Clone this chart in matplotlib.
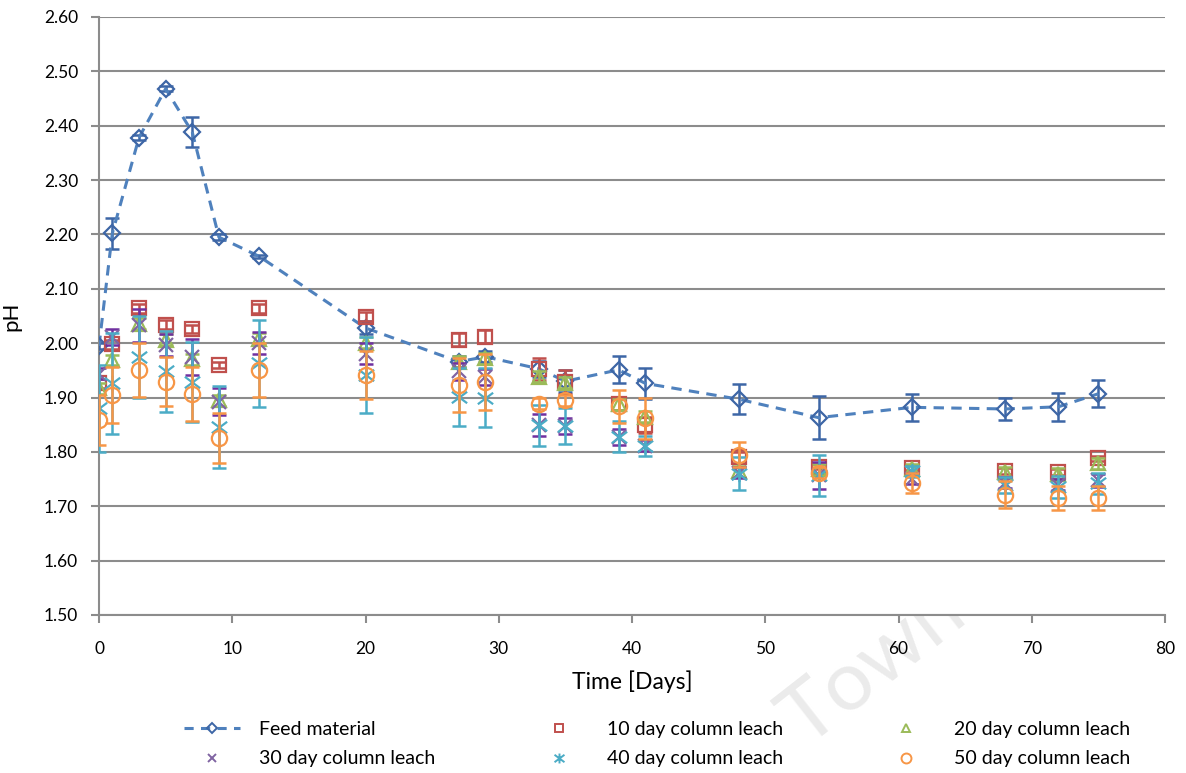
import matplotlib
matplotlib.use("Agg")
import matplotlib.pyplot as plt
from matplotlib.lines import Line2D
from matplotlib.path import Path
import numpy as np

# ---------------- data ----------------
days = [0, 1, 3, 5, 7, 9, 12, 20, 27, 29, 33, 35, 39, 41, 48, 54, 61, 68, 72, 75]

feed = [1.995, 2.202, 2.378, 2.468, 2.388, 2.195, 2.160, 2.028, 1.966, 1.975,
        1.953, 1.930, 1.951, 1.926, 1.897, 1.863, 1.882, 1.879, 1.883, 1.907]
feed_err = [0.005, 0.028, 0.005, 0.005, 0.028, 0.005, 0.003, 0.012, 0.010, 0.010,
            0.015, 0.020, 0.025, 0.028, 0.028, 0.040, 0.025, 0.020, 0.026, 0.025]

leach10 = [1.926, 1.998, 2.064, 2.034, 2.026, 1.960, 2.064, 2.049, 2.006, 2.012,
           1.952, 1.929, 1.888, 1.849, 1.790, 1.773, 1.771, 1.765, 1.763, 1.788]
leach10_err = [0.008, 0.008, 0.008, 0.008, 0.008, 0.005, 0.008, 0.008, 0.012, 0.012,
               0.020, 0.022, 0.010, 0.015, 0.010, 0.005, 0.005, 0.005, 0.005, 0.005]

leach20 = [1.917, 1.969, 2.036, 2.006, 1.970, 1.895, 2.008, 2.001, 1.966, 1.972,
           1.938, 1.927, 1.888, 1.865, 1.764, 1.768, 1.768, 1.763, 1.760, 1.779]
leach20_err = [0.010, 0.010, 0.010, 0.010, 0.010, 0.010, 0.010, 0.010, 0.010, 0.010,
               0.010, 0.010, 0.010, 0.010, 0.010, 0.010, 0.010, 0.010, 0.010, 0.010]

leach30 = [1.944, 2.012, 2.033, 1.997, 1.975, 1.892, 2.000, 1.981, 1.948, 1.938,
           1.849, 1.848, 1.828, 1.811, 1.762, 1.757, 1.751, 1.743, 1.740, 1.748]
leach30_err = [0.010, 0.015, 0.030, 0.020, 0.033, 0.025, 0.020, 0.020, 0.015, 0.015,
               0.020, 0.015, 0.015, 0.010, 0.010, 0.025, 0.010, 0.010, 0.010, 0.012]

leach40 = [1.880, 1.926, 1.975, 1.948, 1.929, 1.846, 1.963, 1.941, 1.901, 1.900,
           1.849, 1.848, 1.828, 1.811, 1.760, 1.757, 1.764, 1.739, 1.736, 1.742]
leach40_err = [0.080, 0.093, 0.075, 0.074, 0.074, 0.075, 0.080, 0.070, 0.053, 0.054,
               0.038, 0.033, 0.028, 0.018, 0.030, 0.038, 0.010, 0.015, 0.020, 0.020]

leach50 = [1.859, 1.905, 1.951, 1.929, 1.907, 1.825, 1.951, 1.941, 1.923, 1.929,
           1.889, 1.895, 1.884, 1.862, 1.795, 1.762, 1.743, 1.721, 1.715, 1.715]
leach50_err = [0.046, 0.052, 0.050, 0.045, 0.050, 0.046, 0.050, 0.044, 0.049, 0.052,
               0.010, 0.010, 0.030, 0.038, 0.023, 0.010, 0.018, 0.025, 0.022, 0.022]

labels = ["Feed material", "10 day column leach", "20 day column leach",
          "30 day column leach", "40 day column leach", "50 day column leach"]

y_ticks = [1.50, 1.60, 1.70, 1.80, 1.90, 2.00, 2.10, 2.20, 2.30, 2.40, 2.50, 2.60]
x_ticks = [0, 10, 20, 30, 40, 50, 60, 70, 80]

# ---------------- style ----------------
FONT = "Lato"
plt.rcParams["font.family"] = [FONT, "DejaVu Sans"]

W, H = 1186, 773
fig = plt.figure(figsize=(W / 100, H / 100), dpi=100)
ax = fig.add_axes([99 / W, 1 - 615 / H, (1165 - 99) / W, (615 - 17) / H])
ax.set_facecolor("white")
ax.set_zorder(1)

# faint watermark (behind the plot area)
fig.text(805 / W, (H - 748) / H, "Town", rotation=38, rotation_mode="anchor",
         ha="left", va="baseline", fontsize=60, color="#ebebeb", zorder=-5)

grid_c = "#8c8c8c"
ax.set_xlim(0, 80)
ax.set_ylim(1.50, 2.60)
ax.set_yticks(y_ticks)
ax.set_yticklabels([f"{v:.2f}" for v in y_ticks])
ax.set_xticks(x_ticks)
ax.yaxis.grid(True, color=grid_c, linewidth=1.5)
ax.set_axisbelow(True)
for s in ["top", "right"]:
    ax.spines[s].set_visible(False)
for s in ["left", "bottom"]:
    ax.spines[s].set_color(grid_c)
    ax.spines[s].set_linewidth(1.5)
ax.tick_params(axis="both", direction="out", length=6, width=1.5, color=grid_c,
               labelsize=12.5, labelcolor="black")
ax.tick_params(axis="x", pad=13)
ax.tick_params(axis="y", pad=9)
ax.set_xlabel("Time [Days]", fontsize=16.5, labelpad=9)
ax.set_ylabel("pH", fontsize=16, labelpad=16)

star = Path([(-1, -0.75), (1, 0.75), (-1, 0.75), (1, -0.75), (0, -1), (0, 1)],
            [Path.MOVETO, Path.LINETO, Path.MOVETO, Path.LINETO, Path.MOVETO, Path.LINETO])

series = [
    (feed, feed_err, "D", "#4F81BD", "#3D66A6", 8.3, "--"),
    (leach10, leach10_err, "s", "#C0504D", "#C0504D", 9.5, "none"),
    (leach20, leach20_err, "^", "#9BBB59", "#9BBB59", 9.5, "none"),
    (leach30, leach30_err, "x", "#8064A2", "#7030A0", 9.5, "none"),
    (leach40, leach40_err, star, "#4BACC6", "#4BACC6", 11, "none"),
    (leach50, leach50_err, "o", "#F79646", "#F79646", 11, "none"),
]

handles = []
for i, (vals, err, mk, col, ecol, ms, ls) in enumerate(series):
    z = 3 + i
    ax.errorbar(days, vals, yerr=err, fmt="none", ecolor=ecol, elinewidth=1.8,
                capsize=5, capthick=1.8, zorder=z)
    if ls == "--":
        ax.plot(days, vals, linestyle=(0, (3.4, 2.4)), color=col, linewidth=2.2, zorder=z)
    ax.plot(days, vals, linestyle="none", marker=mk, markersize=ms,
            markerfacecolor="none", markeredgecolor=ecol if i == 0 else col,
            markeredgewidth=1.6, zorder=z + 0.5)
    h = Line2D([], [], linestyle=(0, (3.0, 2.4)) if ls == "--" else "none",
               color=col, linewidth=2.2, marker=mk, markersize=ms * 0.65,
               markerfacecolor="none", markeredgecolor=ecol if i == 0 else col,
               markeredgewidth=1.4)
    handles.append(h)

order = [0, 3, 1, 4, 2, 5]
fig.legend([handles[k] for k in order], [labels[k] for k in order], ncol=3,
           loc="center", bbox_to_anchor=(657 / W, 1 - 744 / H), frameon=False,
           fontsize=14, handlelength=2.9, columnspacing=4.9, labelspacing=0.65,
           handletextpad=1.0)

fig.savefig("out.png", dpi=100)
